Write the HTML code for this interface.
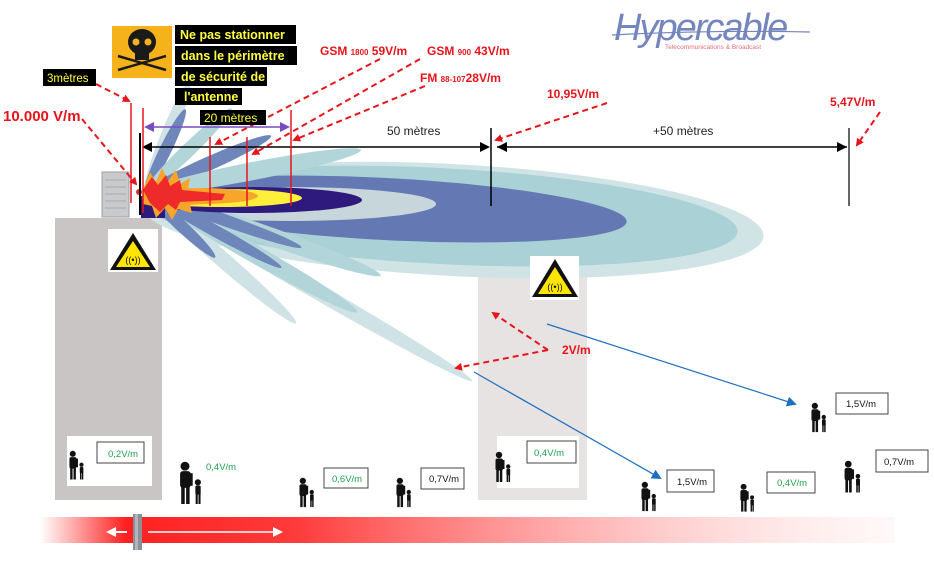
<!DOCTYPE html>
<html><head><meta charset="utf-8"><style>
html,body{margin:0;padding:0;background:#fff;width:934px;height:561px;overflow:hidden}
svg{display:block}
text{font-family:"Liberation Sans",sans-serif}
</style></head><body>
<svg width="934" height="561" viewBox="0 0 934 561" xmlns="http://www.w3.org/2000/svg">
<defs>
<linearGradient id="bar" x1="0" x2="1" y1="0" y2="0">
<stop offset="0" stop-color="#ff2a2a" stop-opacity="0"/>
<stop offset="0.1" stop-color="#ff2020" stop-opacity="1"/>
<stop offset="0.3" stop-color="#ff3030" stop-opacity="0.95"/>
<stop offset="0.6" stop-color="#ff7070" stop-opacity="0.6"/>
<stop offset="1" stop-color="#ffdede" stop-opacity="0.2"/>
</linearGradient>
<g id="p">
<circle cx="5" cy="3" r="3.2" fill="#111"/>
<rect x="1.5" y="6.5" width="7.5" height="12" rx="2" fill="#111"/>
<rect x="8.5" y="8" width="2" height="9" fill="#111"/>
<rect x="2.3" y="17" width="2.5" height="13" fill="#111"/>
<rect x="5.8" y="17" width="2.5" height="13" fill="#111"/>
<circle cx="14.2" cy="14.5" r="2.2" fill="#111"/>
<rect x="12.4" y="16.8" width="3.8" height="6.5" rx="1" fill="#111"/>
<rect x="12.6" y="22.5" width="1.5" height="7.5" fill="#111"/>
<rect x="14.6" y="22.5" width="1.5" height="7.5" fill="#111"/>
</g>
<marker id="ra" markerWidth="8" markerHeight="8" refX="6" refY="4" orient="auto" markerUnits="userSpaceOnUse"><path d="M0,0L8,4L0,8z" fill="#e8141b"/></marker>
<marker id="ba" markerWidth="10" markerHeight="10" refX="8" refY="5" orient="auto" markerUnits="userSpaceOnUse"><path d="M0,0L10,5L0,10z" fill="#1f6fc0"/></marker>
</defs>

<!-- buildings -->
<rect x="55" y="218" width="107" height="282" fill="#c9c5c5"/>
<rect x="478" y="258" width="109" height="242" fill="#e7e3e3"/>

<!-- main lobes -->
<ellipse cx="452" cy="220" rx="312" ry="56" fill="#d0e4e6" transform="rotate(3 452 220)"/>
<ellipse cx="440" cy="216" rx="298" ry="48" fill="#a9d1d6" transform="rotate(3 440 216)"/>
<ellipse cx="385" cy="209" rx="242" ry="31" fill="#6479b3" transform="rotate(3 385 209)"/>
<ellipse cx="290" cy="204" rx="146" ry="17" fill="#c7d6db"/>

<!-- side lobes -->
<g transform="translate(145,192)">
<ellipse cx="188" cy="0" rx="190" ry="8" fill="#cfe3e6" transform="rotate(30)"/>
<ellipse cx="100" cy="0" rx="100" ry="8" fill="#cfe3e6" transform="rotate(41)"/>
<ellipse cx="122" cy="0" rx="122" ry="9" fill="#b2d5da" transform="rotate(29.5)"/>
<ellipse cx="125" cy="0" rx="125" ry="9" fill="#b2d5da" transform="rotate(19.5)"/>
<ellipse cx="48" cy="0" rx="48" ry="6" fill="#6f86bb" transform="rotate(43)"/>
<ellipse cx="78" cy="0" rx="78" ry="6" fill="#6f86bb" transform="rotate(29)"/>
<ellipse cx="83" cy="0" rx="83" ry="6" fill="#6f86bb" transform="rotate(19.5)"/>
<ellipse cx="60" cy="0" rx="60" ry="7" fill="#cfe3e6" transform="rotate(-68)"/>
<ellipse cx="46" cy="0" rx="46" ry="6" fill="#6f86bb" transform="rotate(-64)"/>
<ellipse cx="60" cy="0" rx="60" ry="7" fill="#b2d5da" transform="rotate(-44)"/>
<ellipse cx="69" cy="0" rx="69" ry="7" fill="#6f86bb" transform="rotate(-24)"/>
<ellipse cx="110" cy="0" rx="110" ry="9" fill="#b2d5da" transform="rotate(-11)"/>
</g>

<!-- hot core -->
<ellipse cx="252" cy="200" rx="110" ry="13" fill="#2d1a7c"/>
<rect x="141" y="196" width="24" height="22" fill="#2d1a7c"/>
<ellipse cx="222" cy="198" rx="80" ry="9" fill="#ffef3a"/>
<ellipse cx="200" cy="196" rx="58" ry="8" fill="#f7a52b"/>
<path d="M143,190 L150,172 L156,182 L162,168 L168,181 L176,170 L180,184 L190,178 L188,189 L232,193 L230,202 L190,205 L192,213 L178,209 L172,220 L165,208 L156,218 L152,206 L143,204Z" fill="#f7a52b"/>
<path d="M143,190 L152,177 L158,185 L166,175 L170,186 L180,180 L182,190 L225,194 L222,200 L180,202 L176,210 L168,204 L160,212 L150,203Z" fill="#ee2a2a"/>
<circle cx="139" cy="192" r="3" fill="#ee2a2a"/>

<!-- equipment cabinet -->
<rect x="102" y="172" width="27" height="45" fill="#c8cacc" stroke="#9ea1a4"/>
<g stroke="#a9acaf" stroke-width="1">
<line x1="105" y1="180" x2="126" y2="180"/><line x1="105" y1="187" x2="126" y2="187"/><line x1="105" y1="194" x2="126" y2="194"/><line x1="105" y1="201" x2="126" y2="201"/><line x1="105" y1="208" x2="126" y2="208"/>
</g>

<!-- warning signs -->
<rect x="108" y="229" width="50" height="43" fill="#fff"/>
<path d="M133,233 L156,270 L110,270Z" fill="#111"/>
<path d="M133,241 L150,267 L116,267Z" fill="#ffe600"/>
<text x="133" y="263" font-size="9" text-anchor="middle" fill="#111">((•))</text>
<rect x="530" y="256" width="49" height="44" fill="#fff"/>
<path d="M555,259 L578,297 L532,297Z" fill="#111"/>
<path d="M555,267 L572,294 L538,294Z" fill="#ffe600"/>
<text x="555" y="290" font-size="9" text-anchor="middle" fill="#111">((•))</text>

<!-- dimension lines -->
<line x1="140" y1="133" x2="140" y2="215" stroke="#000" stroke-width="2"/>
<line x1="491" y1="128" x2="491" y2="206" stroke="#000" stroke-width="1.5"/>
<line x1="849" y1="128" x2="849" y2="206" stroke="#333" stroke-width="1.5"/>
<line x1="150" y1="147" x2="482" y2="147" stroke="#000" stroke-width="1.5"/>
<path d="M142,147 L152,142 L152,152Z M490,147 L480,142 L480,152Z M497,147 L507,142 L507,152Z M847,147 L837,142 L837,152Z" fill="#000"/>
<line x1="497" y1="147" x2="847" y2="147" stroke="#000" stroke-width="1.5"/>
<line x1="152" y1="127" x2="282" y2="127" stroke="#7a4cc0" stroke-width="1.5"/>
<path d="M144,127 L154,122 L154,132Z M290,127 L280,122 L280,132Z" fill="#7a4cc0"/>
<g stroke="#e8141b" stroke-width="1.5">
<line x1="131" y1="103" x2="131" y2="203"/>
<line x1="143" y1="108" x2="143" y2="213"/>
<line x1="210" y1="137" x2="210" y2="206"/>
<line x1="247" y1="137" x2="247" y2="206"/>
<line x1="291" y1="110" x2="291" y2="206"/>
</g>
<text x="387" y="135" font-size="12" fill="#222">50 mètres</text>
<text x="653" y="135" font-size="12" fill="#222">+50 mètres</text>

<!-- red dashed pointers -->
<g stroke="#e8141b" stroke-width="2" stroke-dasharray="6,4" fill="none" marker-end="url(#ra)">
<line x1="82" y1="119" x2="136" y2="184"/>
<line x1="96" y1="84" x2="129" y2="101"/>
<line x1="380" y1="59" x2="216" y2="144"/>
<line x1="420" y1="59" x2="253" y2="154"/>
<line x1="425" y1="86" x2="294" y2="140"/>
<line x1="607" y1="103" x2="496" y2="140"/>
<line x1="880" y1="112" x2="857" y2="145"/>
<line x1="548" y1="350" x2="493" y2="313"/>
<line x1="548" y1="350" x2="456" y2="368"/>
</g>

<!-- blue arrows -->
<line x1="547" y1="324" x2="795" y2="404" stroke="#1f6fc0" stroke-width="1.2" marker-end="url(#ba)"/>
<line x1="474" y1="372" x2="660" y2="478" stroke="#1f6fc0" stroke-width="1.2" marker-end="url(#ba)"/>

<!-- red labels -->
<g font-weight="bold" fill="#e8141b">
<text x="3" y="121" font-size="15">10.000 V/m</text>
<text x="320" y="55" font-size="12">GSM <tspan font-size="8">1800</tspan> 59V/m</text>
<text x="427" y="55" font-size="12">GSM <tspan font-size="8">900</tspan> 43V/m</text>
<text x="420" y="82" font-size="12">FM <tspan font-size="8">88-107</tspan>28V/m</text>
<text x="547" y="98" font-size="12">10,95V/m</text>
<text x="830" y="106" font-size="12">5,47V/m</text>
<text x="562" y="354" font-size="12">2V/m</text>
</g>

<!-- skull sign -->
<rect x="112" y="26" width="60" height="52" fill="#f5b21b"/>
<ellipse cx="142" cy="42" rx="14" ry="13" fill="#1a1a1a"/>
<rect x="135" y="50" width="14" height="10" fill="#1a1a1a"/>
<circle cx="136" cy="42" r="3.5" fill="#f5b21b"/><circle cx="148" cy="42" r="3.5" fill="#f5b21b"/>
<line x1="118" y1="70" x2="166" y2="56" stroke="#1a1a1a" stroke-width="2.5"/>
<line x1="118" y1="56" x2="166" y2="70" stroke="#1a1a1a" stroke-width="2.5"/>

<!-- black labels -->
<rect x="175" y="25" width="121" height="19" fill="#000"/>
<rect x="175" y="46" width="122" height="19" fill="#000"/>
<rect x="175" y="67" width="92" height="19" fill="#000"/>
<rect x="175" y="88" width="67" height="17" fill="#000"/>
<rect x="43" y="69" width="53" height="17" fill="#000"/>
<rect x="200" y="110" width="66" height="15" fill="#000"/>
<g fill="#ffff40" font-weight="bold" font-size="12.5">
<text x="180" y="39">Ne pas stationner</text>
<text x="181" y="60">dans le périmètre</text>
<text x="181" y="81">de sécurité de</text>
<text x="184" y="101">l'antenne</text>
</g>
<text x="47" y="82" font-size="11.5" fill="#ffff40">3mètres</text>
<text x="204" y="122" font-size="12" fill="#ffff40">20 mètres</text>

<!-- logo -->
<text x="614" y="40" font-family="Liberation Serif,serif" font-style="italic" font-size="38" fill="#7585bd" letter-spacing="-2">Hypercable</text>
<path d="M612,35 Q700,30 810,32" stroke="#7585bd" stroke-width="1.2" fill="none"/>
<text x="665" y="49" font-size="6.5" fill="#e0707a">Telecommunications &amp; Broadcast</text>

<!-- people boxes -->
<rect x="67" y="436" width="85" height="50" fill="#fff"/>
<rect x="497" y="436" width="82" height="52" fill="#fff"/>
<use href="#p" transform="translate(68,451) scale(0.95)"/>
<use href="#p" transform="translate(178,462) scale(1.4)"/>
<use href="#p" transform="translate(298,478) scale(0.97)"/>
<use href="#p" transform="translate(395,478) scale(0.97)"/>
<use href="#p" transform="translate(494,452) scale(1)"/>
<use href="#p" transform="translate(640,482) scale(0.97)"/>
<use href="#p" transform="translate(739,484) scale(0.92)"/>
<use href="#p" transform="translate(810,403) scale(0.97)"/>
<use href="#p" transform="translate(843,461) scale(1.05)"/>

<g fill="#fff" stroke="#444" stroke-width="1">
<rect x="97" y="442" width="47" height="21"/>
<rect x="324" y="468" width="44" height="20"/>
<rect x="421" y="468" width="43" height="21"/>
<rect x="527" y="441" width="49" height="22"/>
<rect x="667" y="470" width="47" height="22"/>
<rect x="767" y="472" width="48" height="21"/>
<rect x="836" y="393" width="52" height="21"/>
<rect x="876" y="450" width="52" height="22"/>
</g>
<g font-size="9.5">
<text x="108" y="457" fill="#22a050">0,2V/m</text>
<text x="206" y="470" fill="#22a050">0,4V/m</text>
<text x="332" y="482" fill="#22a050">0,6V/m</text>
<text x="429" y="482" fill="#111">0,7V/m</text>
<text x="534" y="456" fill="#22a050">0,4V/m</text>
<text x="677" y="485" fill="#111">1,5V/m</text>
<text x="777" y="486" fill="#22a050">0,4V/m</text>
<text x="846" y="407" fill="#111">1,5V/m</text>
<text x="884" y="465" fill="#111">0,7V/m</text>
</g>

<!-- bottom bar -->
<rect x="40" y="517" width="855" height="26" fill="url(#bar)"/>
<line x1="148" y1="532" x2="275" y2="532" stroke="#fff" stroke-width="1.5"/>
<path d="M283,532 L273,527 L273,537Z" fill="#fff"/>
<line x1="112" y1="532" x2="127" y2="532" stroke="#fff" stroke-width="2"/>
<path d="M106,532 L116,527 L116,537Z" fill="#fff"/>
<rect x="133" y="514" width="9" height="36" fill="#8a9096"/>
<rect x="135" y="514" width="3" height="36" fill="#b0b6bb"/>
</svg>
</body></html>
